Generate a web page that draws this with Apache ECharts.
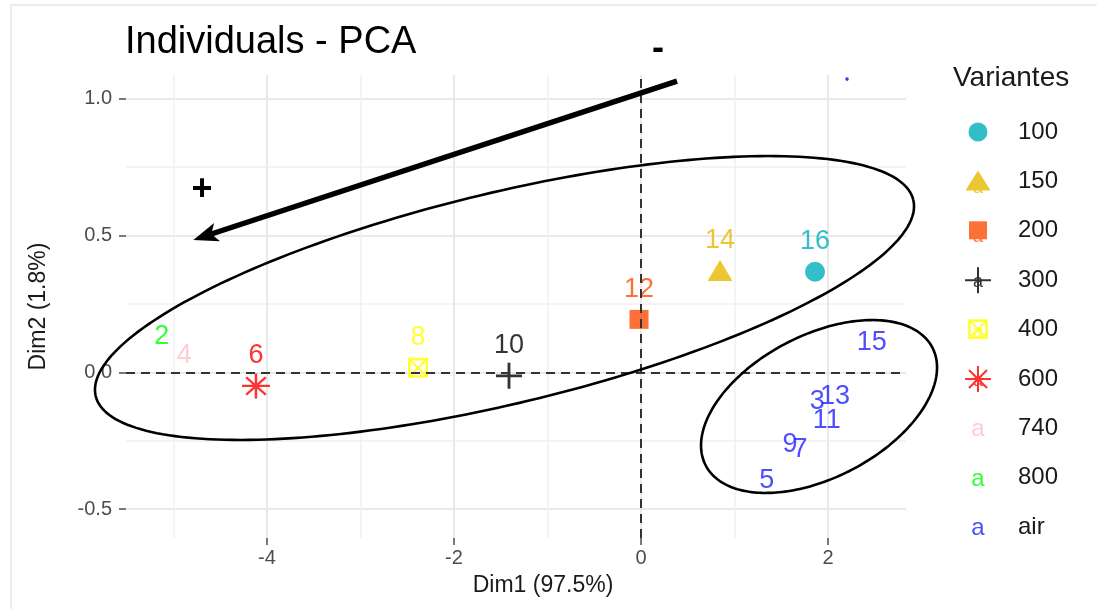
<!DOCTYPE html>
<html><head><meta charset="utf-8">
<script src="https://cdn.jsdelivr.net/npm/echarts@6/dist/echarts.min.js"></script>
<style>html,body{margin:0;padding:0;background:#fff}#c{width:1097px;height:609px}</style>
</head><body><div id="c"></div>
<script>
// ---- data ----
const variants = ['100', '150', '200', '300', '400', '600', '740', '800', 'air'];
const colors = ['#00AFBB', '#E7B800', '#FC4E07', '#000000', '#FFFF00', '#FF0000', '#FFC0CB', '#00FF00', '#2222FF'];
// [Dim1, Dim2, individual id]
const v100 = [[1.861, 0.367, '16']];
const v150 = [[0.845, 0.371, '14']];
const v200 = [[-0.021, 0.193, '12']];
const v300 = [[-1.412, -0.013, '10']];
const v400 = [[-2.385, 0.016, '8']];
const v600 = [[-4.118, -0.050, '6']];
const v740 = [[-4.884, -0.050, '4']];
const v800 = [[-5.126, 0.020, '2']];
const vAir = [[2.467, 0.000, '15'], [2.075, -0.199, '13'], [1.886, -0.217, '3'], [1.986, -0.286, '11'],
              [1.594, -0.375, '9'], [1.701, -0.393, '7'], [1.344, -0.503, '5']];
const seriesData = [v100, v150, v200, v300, v400, v600, v740, v800, vAir];
const xTicks = [-4, -2, 0, 2];
const xMinor = [-5, -3, -1, 1];
const yTicks = [-0.5, 0, 0.5, 1.0];
const yMinor = [-0.25, 0.25, 0.75];
const xRange = [-5.508, 2.834];
const yRange = [-0.605, 1.085];

// ---- hand-drawn annotations (in data units) ----
const ellipses = [
  { c: [-1.460, 0.271], u: [4.372, 0.358], v: [0.263, -0.3745] },
  { c: [1.904, -0.125], u: [1.212, 0.2152], v: [0.352, -0.2307] }
];
const arrow = { from: [0.385, 1.063], to: [-4.788, 0.483] };
const signs = [{ text: '+', at: [-4.695, 0.665] }, { text: '-', at: [0.182, 1.18] }];
const strayDot = [2.203, 1.070];

// ---- styles ----
const FONT = "'Liberation Sans', Arial, sans-serif";
const sym = {
  '100': 'circle',
  '150': 'triangle',
  '200': 'rect',
  '300': 'path://M4.45,0H5.55V4.45H10V5.55H5.55V10H4.45V5.55H0V4.45H4.45Z',
  '400': 'path://M0,0H10V10H0Z M1.3,1.3V8.7H8.7V1.3Z M1.654,0.946L9.054,8.346L8.346,9.054L0.946,1.654Z M8.346,0.946L9.054,1.654L1.654,9.054L0.946,8.346Z',
  '600': 'path://M4.55,0H5.45V4.55H10V5.45H5.45V10H4.55V5.45H0V4.55H4.55Z M1.818,1.182L8.818,8.182L8.182,8.818L1.182,1.818Z M8.182,1.182L8.818,1.818L1.818,8.818L1.182,8.182Z'
};
const symSize = { '100': 20, '150': [25, 21], '200': 19, '300': 26, '400': 20, '600': [28, 25] };

function svgIcon(inner) {
  return 'image://data:image/svg+xml;charset=utf-8,' + encodeURIComponent(
    '<svg xmlns="http://www.w3.org/2000/svg" width="70" height="28" viewBox="0 0 70 28">' + inner + '</svg>');
}
function aGlyph(color, size, y) {
  return '<text x="35" y="' + y + '" font-family="Liberation Sans, Arial, sans-serif" font-size="' + size +
    '" fill="' + color + '" text-anchor="middle">a</text>';
}
const icons = {
  '100': '<circle cx="35" cy="14" r="9.5" fill="' + colors[0] + '"/>' + aGlyph(colors[0], 18, 21),
  '150': '<polygon points="35,3 47.5,23 22.5,23" fill="' + colors[1] + '"/>' + aGlyph(colors[1], 18, 26),
  '200': '<rect x="26" y="4.5" width="18" height="18" fill="' + colors[2] + '"/>' + aGlyph(colors[2], 18, 25),
  '300': '<path d="M35,1V27M22,14H48" stroke="#000" stroke-width="2"/>' + aGlyph('#000', 18, 21),
  '400': '<rect x="26.5" y="5" width="17" height="17" fill="none" stroke="#FFFF00" stroke-width="2.6"/><path d="M27,5.5L43,21.5M43,5.5L27,21.5" stroke="#FFFF00" stroke-width="2"/>' + aGlyph('#FFFF00', 18, 21),
  '600': '<path d="M35,1V27M22,14H48M26,5L44,23M44,5L26,23" stroke="#FF0000" stroke-width="2"/>' + aGlyph('#FF0000', 18, 21),
  '740': aGlyph(colors[6], 24, 22),
  '800': aGlyph(colors[7], 24, 22),
  'air': aGlyph(colors[8], 24, 22)
};

const series = variants.map((name, i) => {
  const hasMarker = !!sym[name];
  return {
    name: name,
    type: 'scatter',
    data: seriesData[i],
    symbol: hasMarker ? sym[name] : 'circle',
    symbolSize: hasMarker ? symSize[name] : 1,
    itemStyle: { color: hasMarker ? colors[i] : 'rgba(0,0,0,0)' },
    label: {
      show: true, position: 'inside', offset: [0, -30],
      formatter: p => p.data[2],
      color: colors[i], fontSize: 27, fontFamily: FONT, textBorderWidth: 0
    },
    emphasis: { disabled: true },
    z: 3
  };
});

// dashed reference lines at Dim1 = 0 and Dim2 = 0
series[0].markLine = {
  silent: true, symbol: 'none', animation: false,
  label: { show: false },
  lineStyle: { color: '#333', width: 2, type: [9, 6] },
  data: [{ xAxis: 0 }, { yAxis: 0 }]
};

// annotation layer
series.push({
  type: 'custom', name: 'annotations', silent: true, z: 5,
  data: [[0, 0]],
  renderItem: function (params, api) {
    const children = [];
    ellipses.forEach(e => {
      const pts = [];
      for (let k = 0; k <= 240; k++) {
        const t = k / 240 * Math.PI * 2;
        pts.push(api.coord([e.c[0] + e.u[0] * Math.cos(t) + e.v[0] * Math.sin(t),
                            e.c[1] + e.u[1] * Math.cos(t) + e.v[1] * Math.sin(t)]));
      }
      children.push({ type: 'polyline', shape: { points: pts }, style: { stroke: '#000', lineWidth: 2.6, fill: 'none' } });
    });
    const p0 = api.coord(arrow.from), p1 = api.coord(arrow.to);
    const dx = p1[0] - p0[0], dy = p1[1] - p0[1], L = Math.hypot(dx, dy);
    const d = [dx / L, dy / L], n = [-d[1], d[0]];
    const hl = 25, hw = 9.5, notch = 6;
    const lineEnd = [p1[0] - d[0] * (hl - notch), p1[1] - d[1] * (hl - notch)];
    children.push({ type: 'line', shape: { x1: p0[0], y1: p0[1], x2: lineEnd[0], y2: lineEnd[1] },
                    style: { stroke: '#000', lineWidth: 5.5 } });
    children.push({ type: 'polygon', shape: { points: [
      p1,
      [p1[0] - d[0] * hl + n[0] * hw, p1[1] - d[1] * hl + n[1] * hw],
      [p1[0] - d[0] * (hl - notch), p1[1] - d[1] * (hl - notch)],
      [p1[0] - d[0] * hl - n[0] * hw, p1[1] - d[1] * hl - n[1] * hw]
    ] }, style: { fill: '#000' } });
    signs.forEach(s => {
      const p = api.coord(s.at);
      children.push({ type: 'text', x: p[0], y: p[1],
        style: { text: s.text, fontSize: 36, fontWeight: 'bold', fontFamily: FONT, fill: '#000', align: 'center', verticalAlign: 'middle' } });
    });
    const sd = api.coord(strayDot);
    children.push({ type: 'circle', shape: { cx: sd[0], cy: sd[1], r: 1.8 }, style: { fill: '#3b3bff' } });
    return { type: 'group', children: children };
  }
});

const tickLabelStyle = { color: '#4d4d4d', fontSize: 20, fontFamily: FONT };
const majorGrid = { show: true, lineStyle: { color: '#e9e9e9', width: 2 } };
const minorGrid = { show: true, lineStyle: { color: '#f0f0f0', width: 1.5 } };
const noLine = { show: false, onZero: false };

const option = {
  animation: false,
  backgroundColor: '#ffffff',
  title: [
    { text: 'Individuals - PCA', left: 125, top: 24, padding: 0,
      textStyle: { fontSize: 38, fontWeight: 'normal', color: '#000', fontFamily: FONT } },
    { text: 'Variantes', left: 953, top: 64, padding: 0,
      textStyle: { fontSize: 28, fontWeight: 'normal', color: '#1a1a1a', fontFamily: FONT } }
  ],
  grid: { left: 126, right: 191, top: 75, bottom: 71, containLabel: false },
  legend: {
    orient: 'vertical', left: 943, top: 118, padding: 0,
    itemWidth: 70, itemHeight: 28, itemGap: 21.4,
    selectedMode: false,
    textStyle: { fontSize: 24, color: '#1a1a1a', fontFamily: FONT },
    data: variants.map(v => ({ name: v, icon: svgIcon(icons[v]) }))
  },
  xAxis: [
    { type: 'value', min: xRange[0], max: xRange[1], position: 'bottom',
      name: 'Dim1 (97.5%)', nameLocation: 'middle', nameGap: 36,
      nameTextStyle: { fontSize: 23, color: '#1a1a1a', fontFamily: FONT, padding: [0, 0, 0, 54] },
      axisLine: noLine,
      axisTick: { show: true, length: 7, customValues: xTicks, lineStyle: { color: '#4d4d4d', width: 1.5 } },
      axisLabel: { customValues: xTicks, margin: 10, ...tickLabelStyle, formatter: v => String(v) },
      splitLine: majorGrid },
    { type: 'value', min: xRange[0], max: xRange[1], position: 'top',
      axisLine: noLine,
      axisTick: { show: false, customValues: xMinor },
      axisLabel: { show: false, customValues: xMinor },
      splitLine: minorGrid }
  ],
  yAxis: [
    { type: 'value', min: yRange[0], max: yRange[1], position: 'left',
      name: 'Dim2 (1.8%)', nameLocation: 'middle', nameGap: 76,
      nameTextStyle: { fontSize: 23, color: '#1a1a1a', fontFamily: FONT },
      axisLine: noLine,
      axisTick: { show: true, length: 7, customValues: yTicks, lineStyle: { color: '#4d4d4d', width: 1.5 } },
      axisLabel: { customValues: yTicks, margin: 14, ...tickLabelStyle, formatter: v => v.toFixed(1) },
      splitLine: majorGrid },
    { type: 'value', min: yRange[0], max: yRange[1], position: 'right',
      axisLine: noLine,
      axisTick: { show: false, customValues: yMinor },
      axisLabel: { show: false, customValues: yMinor },
      splitLine: minorGrid }
  ],
  graphic: [
    { type: 'polyline', silent: true, z: -1,
      shape: { points: [[11, 609], [11, 5], [1097, 5]] },
      style: { stroke: '#ededed', lineWidth: 2, fill: 'none' } }
  ],
  series: series
};

const chart = echarts.init(document.getElementById('c'), null, { renderer: 'canvas' });
chart.setOption(option);
</script>
</body></html>
